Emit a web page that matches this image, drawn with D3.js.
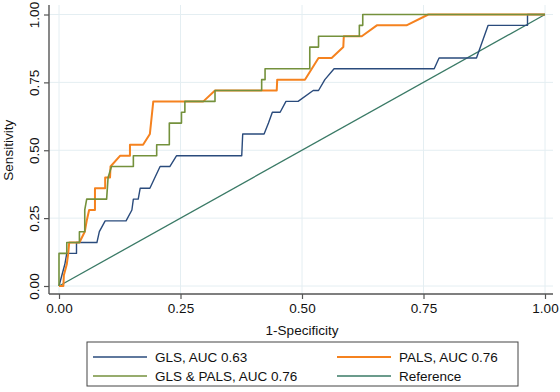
<!DOCTYPE html>
<html>
<head>
<meta charset="utf-8">
<script src="https://cdn.jsdelivr.net/npm/d3@7"></script>
<style>
  body { margin: 0; background: #fff; }
  svg text { font-family: "Liberation Sans", Arial, Helvetica, sans-serif; fill: #111; }
</style>
</head>
<body>
<div id="chart"></div>
<script>
// ROC points (1-specificity, sensitivity)
const glsFpr = [0, 0.012, 0.016, 0.036, 0.036, 0.078, 0.083, 0.095, 0.138, 0.150, 0.153, 0.163, 0.167, 0.187, 0.208, 0.228, 0.242,
    0.376, 0.378, 0.422, 0.431, 0.439, 0.455, 0.467, 0.492, 0.523, 0.534, 0.547, 0.566, 0.772, 0.782, 0.859, 0.883, 0.964, 0.964, 1];
const glsTpr = [0, 0.08, 0.12, 0.12, 0.16, 0.16, 0.20, 0.24, 0.24, 0.28, 0.32, 0.32, 0.36, 0.36, 0.44, 0.44, 0.48,
    0.48, 0.56, 0.56, 0.60, 0.64, 0.64, 0.68, 0.68, 0.72, 0.72, 0.76, 0.80, 0.80, 0.84, 0.84, 0.96, 0.96, 1, 1];

const palsFpr = [0, 0.009, 0.010, 0.016, 0.019, 0.021, 0.042, 0.053, 0.057, 0.062, 0.074, 0.074, 0.095, 0.095, 0.105, 0.106, 0.126,
    0.146, 0.146, 0.173, 0.187, 0.194, 0.297, 0.321, 0.448, 0.449, 0.506, 0.534, 0.561, 0.585, 0.586, 0.623, 0.654, 0.715, 0.760, 1];
const palsTpr = [0, 0, 0.04, 0.08, 0.12, 0.16, 0.16, 0.20, 0.24, 0.28, 0.28, 0.36, 0.36, 0.40, 0.40, 0.44, 0.48,
    0.48, 0.52, 0.52, 0.56, 0.68, 0.68, 0.72, 0.72, 0.76, 0.76, 0.84, 0.84, 0.88, 0.92, 0.92, 0.96, 0.96, 1, 1];

const bothFpr = [0, 0, 0.016, 0.016, 0.042, 0.042, 0.053, 0.053, 0.057, 0.098, 0.101, 0.108, 0.153, 0.153, 0.201, 0.201, 0.227, 0.227,
    0.252, 0.252, 0.259, 0.259, 0.321, 0.321, 0.417, 0.417, 0.424, 0.424, 0.516, 0.516, 0.534, 0.534, 0.618, 0.618, 0.625, 0.625, 1];
const bothTpr = [0, 0.12, 0.12, 0.16, 0.16, 0.20, 0.20, 0.28, 0.32, 0.32, 0.40, 0.44, 0.44, 0.48, 0.48, 0.52, 0.52, 0.60,
    0.60, 0.64, 0.64, 0.68, 0.68, 0.72, 0.72, 0.76, 0.76, 0.80, 0.80, 0.88, 0.88, 0.92, 0.92, 0.96, 0.96, 1, 1];

const refFpr = [0, 1];
const refTpr = [0, 1];

const tickValues = [0, 0.25, 0.5, 0.75, 1];
const seriesNames = ["GLS, AUC 0.63", "PALS, AUC 0.76", "GLS & PALS, AUC 0.76", "Reference"];
const seriesColors = ["#2a4b7c", "#f5821f", "#74913c", "#3a7a66"];
const seriesWidths = [1.4, 2, 1.6, 1.3];

const width = 560, height = 392;

const svg = d3.select("#chart").append("svg")
    .attr("width", width)
    .attr("height", height);

// scales: data range sits inside the axis lines, Stata style
const x = d3.scaleLinear().domain([0, 1]).range([59, 545]);
const y = d3.scaleLinear().domain([0, 1]).range([286, 14.5]);

const plotLeft = 49, plotRight = 553, plotTop = 5, plotBottom = 294;

// grid
svg.append("g").selectAll("line.hgrid")
    .data(tickValues)
    .join("line")
    .attr("x1", plotLeft).attr("x2", plotRight)
    .attr("y1", d => y(d)).attr("y2", d => y(d))
    .attr("stroke", "#e4eef2").attr("stroke-width", 1);

svg.append("g").selectAll("line.vgrid")
    .data(tickValues)
    .join("line")
    .attr("x1", d => x(d)).attr("x2", d => x(d))
    .attr("y1", plotTop).attr("y2", plotBottom)
    .attr("stroke", "#e4eef2").attr("stroke-width", 1);

// axes
const xAxis = svg.append("g")
    .attr("transform", `translate(0,${plotBottom})`)
    .call(d3.axisBottom(x).tickValues(tickValues).tickFormat(d3.format(".2f")).tickSize(5).tickPadding(4));
xAxis.select(".domain").attr("d", `M${plotLeft},0H${plotRight}`);

const yAxis = svg.append("g")
    .attr("transform", `translate(${plotLeft},0)`)
    .call(d3.axisLeft(y).tickValues(tickValues).tickFormat(d3.format(".2f")).tickSize(5).tickPadding(4));
yAxis.select(".domain").attr("d", `M0,${plotTop}V${plotBottom}`);

[xAxis, yAxis].forEach(g => {
    g.select(".domain").attr("stroke", "#555").attr("stroke-width", 1.4);
    g.selectAll(".tick line").attr("stroke", "#555").attr("stroke-width", 1.2);
    g.selectAll(".tick text").attr("font-size", 13.5).attr("fill", "#111");
});

// y tick labels turned vertical
yAxis.selectAll(".tick text")
    .attr("text-anchor", "middle")
    .attr("x", 0).attr("dy", 0)
    .attr("transform", "translate(-10,0) rotate(-90)");

// axis titles
svg.append("text")
    .attr("x", (x(0) + x(1)) / 2)
    .attr("y", 335)
    .attr("text-anchor", "middle")
    .attr("font-size", 13.5)
    .text("1-Specificity");

svg.append("text")
    .attr("transform", `translate(13,${(y(0) + y(1)) / 2}) rotate(-90)`)
    .attr("text-anchor", "middle")
    .attr("font-size", 13.5)
    .text("Sensitivity");

// curves
const series = [
    { fpr: glsFpr, tpr: glsTpr },
    { fpr: palsFpr, tpr: palsTpr },
    { fpr: bothFpr, tpr: bothTpr },
    { fpr: refFpr, tpr: refTpr }
];

const line = d3.line()
    .x(d => x(d[0]))
    .y(d => y(d[1]));

// draw reference first, then GLS, then the two upper curves
[3, 0, 1, 2].forEach(i => {
    const s = series[i];
    const pts = s.fpr.map((f, j) => [f, s.tpr[j]]);
    svg.append("path")
        .datum(pts)
        .attr("d", line)
        .attr("fill", "none")
        .attr("stroke", seriesColors[i])
        .attr("stroke-width", seriesWidths[i])
        .attr("stroke-linejoin", "round");
});

// legend
const legend = svg.append("g");
legend.append("rect")
    .attr("x", 87).attr("y", 342)
    .attr("width", 431).attr("height", 44)
    .attr("fill", "#fff")
    .attr("stroke", "#444").attr("stroke-width", 1);

const legendCols = [93, 337];
const legendRows = [357, 376];

seriesNames.forEach((name, i) => {
    const cx = legendCols[i % 2], cy = legendRows[Math.floor(i / 2)];
    legend.append("line")
        .attr("x1", cx).attr("x2", cx + 54)
        .attr("y1", cy).attr("y2", cy)
        .attr("stroke", seriesColors[i])
        .attr("stroke-width", i === 1 ? 2 : 1.5);
    legend.append("text")
        .attr("x", cx + 62).attr("y", cy)
        .attr("dy", "0.35em")
        .attr("font-size", 13.5)
        .text(name);
});
</script>
</body>
</html>
